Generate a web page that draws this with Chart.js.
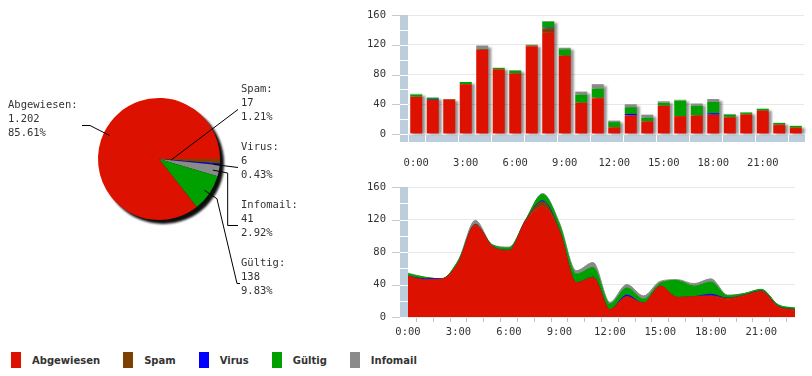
<!DOCTYPE html>
<html><head><meta charset="utf-8">
<script src="https://cdn.jsdelivr.net/npm/chart.js@4.4.0/dist/chart.umd.min.js"></script>
<style>
html,body{margin:0;padding:0;background:#fff;width:812px;height:376px;overflow:hidden;position:relative}
canvas{position:absolute;display:block}
#legend{position:absolute;left:11px;top:352px;height:16px;display:flex;align-items:center;font:bold 10px "DejaVu Sans",sans-serif;color:#333}
#legend .it{display:flex;align-items:center;margin-right:23px}
#legend .sq{width:10px;height:16px;margin-right:11px}
</style></head><body>
<canvas id="pie" width="340" height="340" style="left:0;top:0"></canvas>
<canvas id="bar" width="452" height="176" style="left:360px;top:0"></canvas>
<canvas id="area" width="452" height="164" style="left:360px;top:176px"></canvas>
<div id="legend"></div>
<script>
// ---- data ----
const hours = ['0:00','1:00','2:00','3:00','4:00','5:00','6:00','7:00','8:00','9:00','10:00','11:00','12:00','13:00','14:00','15:00','16:00','17:00','18:00','19:00','20:00','21:00','22:00','23:00'];
const seriesNames = ['Abgewiesen','Spam','Virus','Gültig','Infomail'];
const abgewiesen = [50,46,46,67,113,87,81,118,136,105,42,48,9,25,17,38,24,25,26,22,26,31,12,8];
const spam       = [0,0,1,0,1,0,1,1,6,1,0,1,0,0,0,0,0,0,0,1,1,1,1,1];
const virus      = [0,1,0,0,0,0,0,0,1,0,0,0,0,2,0,0,0,0,2,0,0,0,0,0];
const gueltig    = [3,2,0,3,0,2,3,1,8,8,11,12,7,9,5,4,21,13,15,3,2,2,2,2];
const infomail   = [1,0,0,0,5,0,1,0,1,2,4,6,2,4,4,2,1,3,4,1,0,0,0,0];
const yTicks = [0,40,80,120,160];
const pieOrder = ['Spam','Virus','Infomail','Gültig','Abgewiesen'];

// ---- styles ----
const colors = {'Abgewiesen':'#dd1100','Spam':'#7a4100','Virus':'#0000ff','Gültig':'#00a000','Infomail':'#8a8a8a'};
const seriesData = {'Abgewiesen':abgewiesen,'Spam':spam,'Virus':virus,'Gültig':gueltig,'Infomail':infomail};
const MONO = '"DejaVu Sans Mono", monospace';
const BAND = '#bccddc';
const sum = a => a.reduce((s,v)=>s+v,0);
const fmtDE = n => String(n).replace(/\B(?=(\d{3})+(?!\d))/g,'.');

// legend
const lg = document.getElementById('legend');
seriesNames.forEach(n=>{
  const it=document.createElement('div'); it.className='it';
  const sq=document.createElement('div'); sq.className='sq'; sq.style.background=colors[n];
  const t=document.createElement('span'); t.textContent=n;
  it.appendChild(sq); it.appendChild(t); lg.appendChild(it);
});

// ---- pie ----
const pieDecor = {
  id:'pieDecor',
  beforeDatasetsDraw(chart){
    const arc = chart.getDatasetMeta(0).data[0];
    const ctx = chart.ctx; ctx.save();
    ctx.filter='blur(1px)'; ctx.fillStyle='rgba(0,0,0,0.95)';
    ctx.beginPath(); ctx.arc(arc.x+4, arc.y+4, arc.outerRadius, 0, Math.PI*2); ctx.fill();
    ctx.restore();
  },
  afterDatasetsDraw(chart, args, o){
    const ctx = chart.ctx; const meta = chart.getDatasetMeta(0);
    const vals = chart.data.datasets[0].data; const total = sum(vals);
    ctx.save();
    ctx.font = '10.5px '+MONO; ctx.fillStyle='#333'; ctx.strokeStyle='#000'; ctx.lineWidth=1;
    ctx.textBaseline='middle';
    let k=0;
    meta.data.forEach((arc,i)=>{
      const mid=(arc.startAngle+arc.endAngle)/2;
      const R=arc.outerRadius;
      const r=R*o.anchor[i];
      const ax=arc.x+Math.cos(mid)*r, ay=arc.y+Math.sin(mid)*r;
      const ex=arc.x+Math.cos(mid)*(R+9), ey=arc.y+Math.sin(mid)*(R+9);
      const route=o.routes[i];
      const lines=[chart.data.labels[i]+':', fmtDE(vals[i]), (vals[i]/total*100).toFixed(2)+'%'];
      let lx, ly, pts;
      if(route==='left'){
        ly = arc.y - 34; lx = arc.x - 151;
        pts=[[ax,ay],[arc.x-69,ly],[arc.x-77,ly]];
      } else {
        ly = arc.y - 50 + k*58; k++;
        lx = arc.x + 82;
        const hx = arc.x + 79;
        if(route==='straight') pts=[[ax,ay],[hx,ly]];
        else if(route==='elbowV') pts=[[ax,ay],[ex,ey],[ex,ly],[hx,ly]];
        else pts=[[ax,ay],[ex,ey],[hx-1,ly],[hx+2,ly]];
      }
      ctx.beginPath();
      pts.forEach((p,j)=>{ if(j===0) ctx.moveTo(p[0],p[1]+0.5); else ctx.lineTo(p[0],p[1]+0.5); });
      ctx.stroke();
      lines.forEach((t,j)=>ctx.fillText(t, lx, ly-20+j*14));
    });
    ctx.restore();
  }
};
new Chart(document.getElementById('pie'),{
  type:'pie',
  data:{labels:pieOrder, datasets:[{data:pieOrder.map(n=>sum(seriesData[n])), backgroundColor:pieOrder.map(n=>colors[n]), borderWidth:0}]},
  options:{responsive:false, animation:false, rotation:90,
    layout:{padding:{left:98,top:98,right:120,bottom:120}},
    plugins:{legend:{display:false}, tooltip:{enabled:false},
      pieDecor:{anchor:[0.2,0.9,0.9,0.9,0.9], routes:['straight','straight','elbowV','elbowD','left']}}},
  plugins:[pieDecor]
});

// ---- axis decoration (left band, ticks, bottom blocks, shadows) ----
const axisDecor = {
  id:'axisDecor',
  beforeDatasetsDraw(chart, args, o){
    const {ctx, chartArea:a, scales:{x,y}} = chart;
    ctx.save();
    ctx.fillStyle=BAND;
    ctx.fillRect(a.left-8, a.top, 8, a.bottom-a.top+(o.blocks?8:0));
    ctx.fillStyle='#fff';
    for(let v=20; v<160; v+=20){ ctx.fillRect(a.left-8, Math.round(y.getPixelForValue(v)), 8, 1); }
    if(o.blocks) ctx.fillRect(a.left-8, Math.round(y.getPixelForValue(0)), 8, 1);
    ctx.fillStyle=BAND;
    y.ticks.forEach(t=>ctx.fillRect(a.left-16, Math.round(y.getPixelForValue(t.value)), 8, 1));
    if(o.blocks){
      const step = x.getPixelForValue(1)-x.getPixelForValue(0);
      hours.forEach((h,i)=>{ const cx=x.getPixelForValue(i); ctx.fillRect(Math.round(cx-step/2)+1, Math.round(a.bottom)+1, Math.round(step)-1, 7); });
      // bar shadows
      const meta = chart.getDatasetMeta(0);
      ctx.filter='blur(1px)'; ctx.fillStyle='rgba(0,0,0,0.42)';
      meta.data.forEach((bar,i)=>{
        const tot = chart.data.datasets.reduce((s,d)=>s+d.data[i],0);
        const top=y.getPixelForValue(tot), base=y.getPixelForValue(0);
        ctx.fillRect(bar.x-bar.width/2+3, top+2, bar.width, base-top-2);
      });
    }
    ctx.restore();
  }
};

const yScale = ()=>({
  stacked:true, min:0, max:160,
  afterBuildTicks: s=>{ s.ticks = yTicks.map(v=>({value:v})); },
  afterFit: s=>{ s.width=48; },
  grid:{color:'#e8e8e8', drawTicks:true, tickLength:22, tickColor:'rgba(0,0,0,0)'},
  border:{display:false},
  ticks:{padding:0, color:'#333', font:{family:MONO, size:10.5}}
});
const tickCb = function(v,i){ return i%3===0 ? hours[i] : ''; };

new Chart(document.getElementById('bar'),{
  type:'bar',
  data:{labels:hours, datasets:seriesNames.map(n=>({label:n, data:seriesData[n], backgroundColor:colors[n], borderWidth:0, barPercentage:0.73, categoryPercentage:1}))},
  options:{responsive:false, animation:false,
    layout:{padding:{left:0,top:15,right:8,bottom:0}},
    plugins:{legend:{display:false}, tooltip:{enabled:false}, axisDecor:{blocks:true}},
    scales:{
      x:{stacked:true, afterFit:s=>{s.height=42;}, grid:{display:false}, border:{display:false},
         ticks:{autoSkip:false, maxRotation:0, padding:15, color:'#333', font:{family:MONO,size:10.5}, callback:tickCb}},
      y:yScale()
    }},
  plugins:[axisDecor]
});

new Chart(document.getElementById('area'),{
  type:'line',
  data:{labels:hours, datasets:seriesNames.map((n,i)=>({label:n, data:seriesData[n], backgroundColor:colors[n], borderColor:colors[n], borderWidth:1, fill:i===0?'origin':'-1', pointRadius:0, cubicInterpolationMode:'monotone'}))},
  options:{responsive:false, animation:false,
    layout:{padding:{left:0,top:11,right:17,bottom:0}},
    plugins:{legend:{display:false}, tooltip:{enabled:false}, axisDecor:{blocks:false}},
    scales:{
      x:{afterFit:s=>{s.height=23;}, grid:{offset:true, drawOnChartArea:false, drawTicks:true, tickLength:5, color:'#b4c4d4'}, border:{display:false},
         ticks:{autoSkip:false, maxRotation:0, padding:4, color:'#333', font:{family:MONO,size:10.5}, callback:tickCb}},
      y:yScale()
    }},
  plugins:[axisDecor]
});
</script>
</body></html>
